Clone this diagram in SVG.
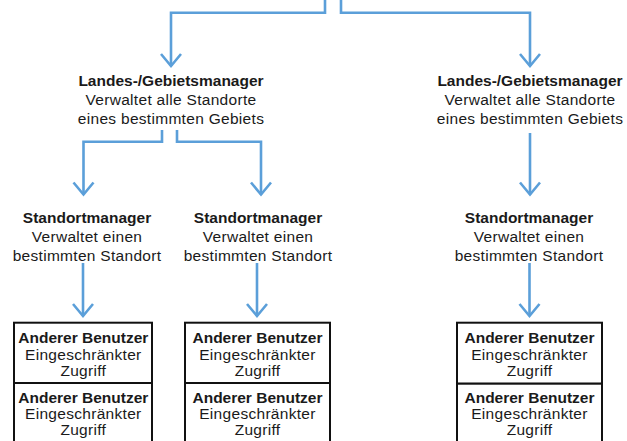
<svg xmlns="http://www.w3.org/2000/svg" width="627" height="441" viewBox="0 0 627 441">
<defs>
<style>
.c{fill:none;stroke:#5b9fd9;stroke-width:2.6;marker-end:url(#ah)}
.t{font-family:"Liberation Sans",Arial,sans-serif;font-size:15.5px;fill:#1a1a1a;text-anchor:middle}
.b{font-weight:bold}
.r{letter-spacing:0.3px}
.box{fill:#fff;stroke:#111;stroke-width:2}
</style>
<marker id="ah" markerUnits="userSpaceOnUse" markerWidth="30" markerHeight="30" viewBox="-15 -15 30 30" refX="0" refY="0" orient="auto" overflow="visible">
<path d="M-12,-10 L0,0 L-12,10" fill="none" stroke="#5b9fd9" stroke-width="2.6"/>
</marker>
</defs>
<rect width="627" height="441" fill="#fff"/>
<g id="connectors">
<path class="c" d="M325,0 V12.7 H171 V66"/>
<path class="c" d="M341,0 V12.7 H530 V66"/>
<path class="c" d="M162,130 V141.7 H83.5 V194.5"/>
<path class="c" d="M177,130 V141.7 H261 V194.5"/>
<path class="c" d="M530,133 V194.5"/>
<path class="c" d="M83,263 V316"/>
<path class="c" d="M257,263 V316"/>
<path class="c" d="M529.5,263 V316"/>
</g>
<g id="landes1">
<text class="t b" x="171" y="86">Landes-/Gebietsmanager</text>
<text class="t r" x="171" y="105">Verwaltet alle Standorte</text>
<text class="t r" x="171" y="124">eines bestimmten Gebiets</text>
</g>
<g id="landes2">
<text class="t b" x="530" y="86">Landes-/Gebietsmanager</text>
<text class="t r" x="530" y="105">Verwaltet alle Standorte</text>
<text class="t r" x="530" y="124">eines bestimmten Gebiets</text>
</g>
<g id="standort1">
<text class="t b" x="87" y="222.5">Standortmanager</text>
<text class="t r" x="87" y="241.7">Verwaltet einen</text>
<text class="t r" x="87" y="260.7">bestimmten Standort</text>
</g>
<g id="standort2">
<text class="t b" x="258" y="222.5">Standortmanager</text>
<text class="t r" x="258" y="241.7">Verwaltet einen</text>
<text class="t r" x="258" y="260.7">bestimmten Standort</text>
</g>
<g id="standort3">
<text class="t b" x="529" y="222.5">Standortmanager</text>
<text class="t r" x="529" y="241.7">Verwaltet einen</text>
<text class="t r" x="529" y="260.7">bestimmten Standort</text>
</g>
<g id="users1">
<rect class="box" x="14" y="322.7" width="138" height="60.3"/>
<rect class="box" x="14" y="383" width="138" height="64"/>
<text class="t b" x="83.3" y="343.3">Anderer Benutzer</text>
<text class="t r" x="83.3" y="359.5">Eingeschränkter</text>
<text class="t r" x="83.3" y="375.5">Zugriff</text>
<text class="t b" x="83.3" y="403.3">Anderer Benutzer</text>
<text class="t r" x="83.3" y="419.3">Eingeschränkter</text>
<text class="t r" x="83.3" y="435.3">Zugriff</text>
</g>
<g id="users2">
<rect class="box" x="185" y="322.7" width="145" height="60.3"/>
<rect class="box" x="185" y="383" width="145" height="64"/>
<text class="t b" x="257.5" y="343.3">Anderer Benutzer</text>
<text class="t r" x="257.5" y="359.5">Eingeschränkter</text>
<text class="t r" x="257.5" y="375.5">Zugriff</text>
<text class="t b" x="257.5" y="403.3">Anderer Benutzer</text>
<text class="t r" x="257.5" y="419.3">Eingeschränkter</text>
<text class="t r" x="257.5" y="435.3">Zugriff</text>
</g>
<g id="users3">
<rect class="box" x="457" y="322.7" width="145" height="61"/>
<rect class="box" x="457" y="383.7" width="145" height="64"/>
<text class="t b" x="529.5" y="343.3">Anderer Benutzer</text>
<text class="t r" x="529.5" y="359.5">Eingeschränkter</text>
<text class="t r" x="529.5" y="375.5">Zugriff</text>
<text class="t b" x="529.5" y="403.3">Anderer Benutzer</text>
<text class="t r" x="529.5" y="419.3">Eingeschränkter</text>
<text class="t r" x="529.5" y="435.3">Zugriff</text>
</g>
</svg>
